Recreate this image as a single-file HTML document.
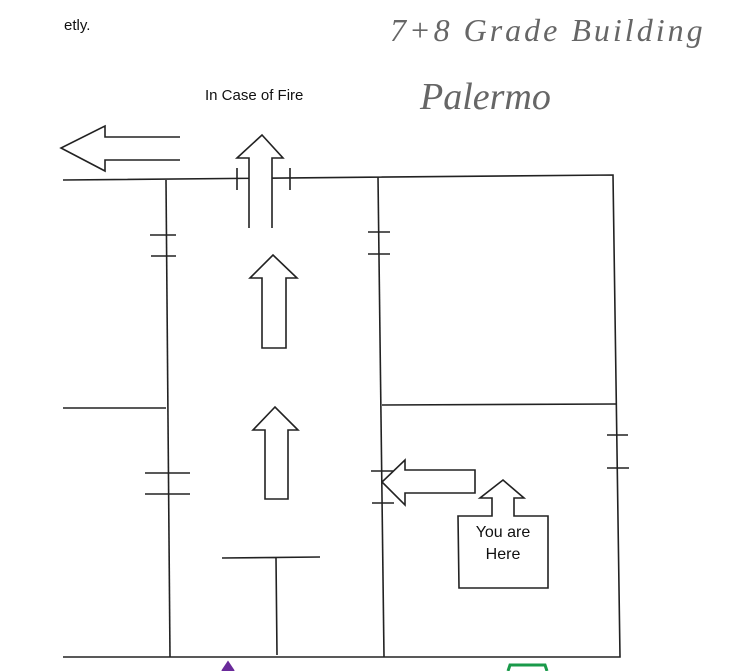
<!DOCTYPE html>
<html><head><style>
body{margin:0;background:#fff;width:736px;height:671px;overflow:hidden;position:relative;font-family:"Liberation Sans",sans-serif}
.t{position:absolute;color:#111}
</style></head><body>
<svg width="736" height="671" style="position:absolute;left:0;top:0" fill="none" stroke="#222" stroke-width="1.6">
<path d="M63 180 L613 175 L620 657 L63 657"/>
<path d="M166 180 L170 657"/>
<path d="M378 177 L384 657"/>
<path d="M63 408 L166 408"/>
<path d="M382 405 L617 404"/>
<path d="M222 558 L320 557 M276 558 L277 655"/>
<path d="M150 235 L176 235 M151 256 L176 256"/>
<path d="M145 473 L190 473 M145 494 L190 494"/>
<path d="M368 232 L390 232 M368 254 L390 254"/>
<path d="M371 471 L393 471 M372 503 L394 503"/>
<path d="M607 435 L628 435 M607 468 L629 468"/>
<path d="M237 168 L237 190 M290 168 L290 190"/>
<path d="M180 137 L105 137 L105 126 L61 148 L105 171 L105 160 L180 160"/>
<path d="M249 228 L249 158 L237 158 L262 135 L283 158 L272 158 L272 228" fill="#fff"/>
<path d="M262 348 L262 278 L250 278 L273 255 L297 278 L286 278 L286 348 Z"/>
<path d="M265 499 L265 430 L253 430 L275 407 L298 430 L288 430 L288 499 Z"/>
<path d="M475 470 L405 470 L405 460 L382 482 L405 505 L405 493 L475 493 Z"/>
<path d="M458 516 L492 516 L492 498 L480 498 L503 480 L524 498 L514 498 L514 516 L548 516 L548 588 L459 588 Z"/>
<path d="M222 671 L228 662 L234 671" fill="#6a2a9a" stroke="#6a2a9a"/>
<path d="M508 671 L510 665 L545 665 L547 671" stroke="#1a9a4a" stroke-width="3"/>
</svg>
<div class="t" style="left:64px;top:17px;font-size:15px">etly.</div>
<div class="t" style="left:205px;top:87px;font-size:15px">In Case of Fire</div>
<div class="t" style="left:390px;top:12px;font-size:32px;font-family:'Liberation Serif',serif;font-style:italic;color:#666;letter-spacing:3px">7+8 Grade Building</div>
<div class="t" style="left:420px;top:75px;font-size:38px;font-family:'Liberation Serif',serif;font-style:italic;color:#666">Palermo</div>
<div class="t" style="left:458px;top:522px;width:90px;text-align:center;font-size:16px;line-height:22px">You are<br>Here</div>
</body></html>
